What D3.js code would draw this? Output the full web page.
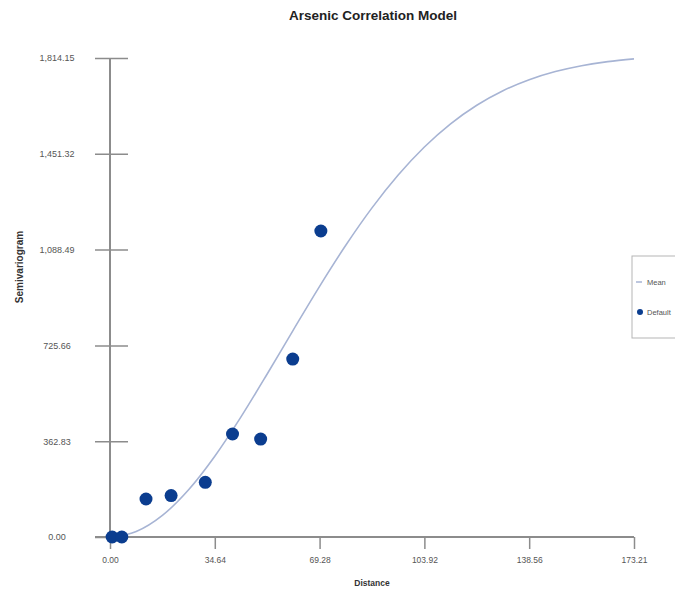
<!DOCTYPE html>
<html>
<head>
<meta charset="utf-8">
<script src="https://cdn.jsdelivr.net/npm/d3@7"></script>
<style>
  html, body { margin: 0; padding: 0; background: #fff; }
  svg { display: block; font-family: "Liberation Sans", Arial, sans-serif; }
</style>
</head>
<body>
<svg id="chart" width="675" height="589"></svg>
<script>
// Empirical semivariogram points
const lagDistance = [0.7, 3.9, 11.9, 20.2, 31.5, 40.5, 49.8, 60.4, 69.7];
const semivariance = [0, 0, 144, 157, 207, 390, 371, 674, 1159];

// Fitted model ("Mean") sampled along the distance axis
const modelDistance = [0, 8.66, 17.32, 25.98, 34.64, 43.30, 51.96, 60.62, 69.28, 77.94, 86.60,
  95.26, 103.92, 112.58, 121.24, 129.90, 138.56, 147.22, 155.88, 164.54, 173.21];
const modelValue = [0, 20.8, 81.8, 178.9, 305.9, 454.9, 617.4, 784.8, 949.5, 1104.9, 1246.5,
  1370.9, 1477.1, 1564.8, 1635.2, 1690.2, 1731.9, 1762.7, 1784.9, 1800.5, 1811.0];

// Axis ticks
const xTicks = [0, 34.64, 69.28, 103.92, 138.56, 173.21];
const xTickLabels = ["0.00", "34.64", "69.28", "103.92", "138.56", "173.21"];
const yTicks = [0, 362.83, 725.66, 1088.49, 1451.32, 1814.15];
const yTickLabels = ["0.00", "362.83", "725.66", "1,088.49", "1,451.32", "1,814.15"];

const legendItems = ["Mean", "Default"];

const svg = d3.select("#chart");
const axisColor = "#8c8c8c";
const labelColor = "#555";
const dotColor = "#0b3d8f";
const lineColor = "#a7b4d4";

const x = d3.scaleLinear().domain([0, 173.21]).range([110, 634]);
const y = d3.scaleLinear().domain([0, 1814.15]).range([537, 58]);

// Title
svg.append("text")
  .attr("x", 373).attr("y", 20)
  .attr("text-anchor", "middle")
  .attr("font-size", 13.5).attr("font-weight", "bold").attr("fill", "#222")
  .text("Arsenic Correlation Model");

// Y axis: line plus ticks that cross it
svg.append("line")
  .attr("x1", x(0)).attr("x2", x(0))
  .attr("y1", y(yTicks[yTicks.length - 1])).attr("y2", y(0))
  .attr("stroke", axisColor).attr("stroke-width", 2);

const yAxis = d3.axisLeft(y).tickValues(yTicks).tickSize(0).tickFormat((d, i) => yTickLabels[i]);
const yG = svg.append("g").attr("transform", `translate(${x(0)},0)`).call(yAxis);
yG.select(".domain").remove();
yG.selectAll(".tick line").remove();
yG.selectAll(".tick").append("line")
  .attr("x1", -15).attr("x2", 18)
  .attr("stroke", axisColor).attr("stroke-width", 1.5);
yG.selectAll(".tick text")
  .attr("x", -53).attr("text-anchor", "middle")
  .attr("font-size", 9).attr("fill", labelColor)
  .attr("font-family", "Liberation Sans, Arial, sans-serif");

// X axis: line plus downward ticks
svg.append("line")
  .attr("x1", 95).attr("x2", x(173.21))
  .attr("y1", y(0)).attr("y2", y(0))
  .attr("stroke", axisColor).attr("stroke-width", 2);

const xAxis = d3.axisBottom(x).tickValues(xTicks).tickSize(12).tickPadding(8)
  .tickFormat((d, i) => xTickLabels[i]);
const xG = svg.append("g").attr("transform", `translate(0,${y(0)})`).call(xAxis);
xG.select(".domain").remove();
xG.selectAll(".tick line").attr("stroke", axisColor).attr("stroke-width", 1.5);
xG.selectAll(".tick text")
  .attr("font-size", 8.5).attr("fill", labelColor)
  .attr("font-family", "Liberation Sans, Arial, sans-serif");

// Axis titles
svg.append("text")
  .attr("x", 372).attr("y", 586)
  .attr("text-anchor", "middle")
  .attr("font-size", 8.5).attr("font-weight", "bold").attr("fill", "#333")
  .text("Distance");

svg.append("text")
  .attr("transform", "translate(23,267) rotate(-90)")
  .attr("text-anchor", "middle")
  .attr("font-size", 10).attr("font-weight", "bold").attr("fill", "#333")
  .text("Semivariogram");

// Model curve
const line = d3.line()
  .x((d, i) => x(modelDistance[i]))
  .y((d, i) => y(modelValue[i]))
  .curve(d3.curveMonotoneX);
svg.append("path")
  .datum(modelValue)
  .attr("d", line)
  .attr("fill", "none")
  .attr("stroke", lineColor)
  .attr("stroke-width", 1.6);

// Empirical points
svg.append("g").selectAll("circle")
  .data(semivariance)
  .join("circle")
  .attr("cx", (d, i) => x(lagDistance[i]))
  .attr("cy", d => y(d))
  .attr("r", 6.5)
  .attr("fill", dotColor);

// Legend (runs off the right edge)
const lg = svg.append("g").attr("transform", "translate(632,256)");
lg.append("rect")
  .attr("x", 0).attr("y", 0).attr("width", 60).attr("height", 82)
  .attr("fill", "#fff").attr("stroke", "#b5b5b5").attr("stroke-width", 1);
lg.append("line")
  .attr("x1", 4).attr("x2", 10).attr("y1", 26).attr("y2", 26)
  .attr("stroke", lineColor).attr("stroke-width", 1.5);
lg.append("circle")
  .attr("cx", 8).attr("cy", 56).attr("r", 3)
  .attr("fill", dotColor);
lg.selectAll("text.item")
  .data(legendItems)
  .join("text")
  .attr("class", "item")
  .attr("x", 15)
  .attr("y", (d, i) => 29 + i * 30)
  .attr("font-size", 7.5).attr("fill", labelColor)
  .text(d => d);
</script>
</body>
</html>
